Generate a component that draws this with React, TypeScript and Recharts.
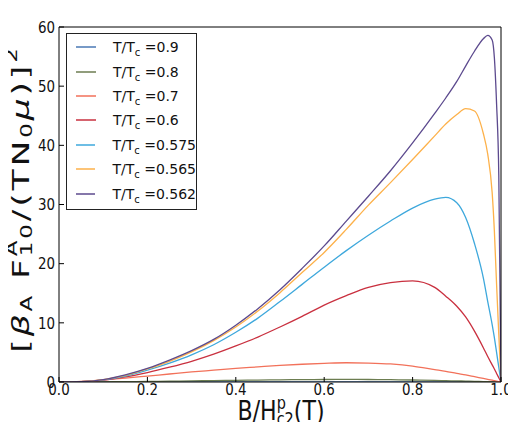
import { LineChart, Line, XAxis, YAxis, Legend, Label } from 'recharts'

// B / Hc2 grid (denser near 1 where the curves drop)
const fieldRatio = [0, 0.05, 0.1, 0.15, 0.2, 0.25, 0.3, 0.35, 0.4, 0.45, 0.5, 0.55, 0.6, 0.65, 0.7, 0.75, 0.8, 0.85, 0.875, 0.9, 0.92, 0.94, 0.96, 0.97, 0.98, 0.985, 0.99, 0.995, 1.0]

const t090 = [0, 0, 0.001, 0.002, 0.004, 0.006, 0.008, 0.01, 0.012, 0.014, 0.016, 0.018, 0.019, 0.02, 0.02, 0.019, 0.017, 0.014, 0.012, 0.01, 0.008, 0.006, 0.004, 0.003, 0.002, 0.0015, 0.001, 0.0005, 0]
const t080 = [0, 0.01, 0.03, 0.06, 0.1, 0.14, 0.19, 0.24, 0.29, 0.33, 0.37, 0.4, 0.42, 0.43, 0.42, 0.39, 0.34, 0.27, 0.23, 0.18, 0.15, 0.11, 0.07, 0.05, 0.035, 0.025, 0.015, 0.008, 0]
const t070 = [0, 0.1, 0.35, 0.65, 1.0, 1.35, 1.7, 2.0, 2.3, 2.55, 2.8, 3.0, 3.15, 3.25, 3.2, 3.05, 2.7, 2.1, 1.8, 1.45, 1.2, 0.9, 0.6, 0.45, 0.3, 0.22, 0.15, 0.07, 0]
const t060 = [0, 0.05, 0.3, 0.85, 1.6, 2.5, 3.5, 4.7, 6.1, 7.6, 9.3, 11.1, 13.0, 14.6, 16.0, 16.8, 17.1, 16.0, 14.5, 12.8, 11.0, 8.6, 5.8, 4.3, 2.9, 2.2, 1.45, 0.72, 0]
const t0575 = [0, 0.05, 0.35, 1.0, 2.0, 3.2, 4.6, 6.3, 8.4, 10.8, 13.6, 16.5, 19.4, 22.2, 24.8, 27.2, 29.4, 30.9, 31.2, 30.3, 27.8, 23.4, 17.6, 13.6, 9.7, 7.5, 5.0, 2.5, 0]
const t0565 = [0, 0.05, 0.4, 1.1, 2.2, 3.5, 5.1, 7.0, 9.3, 12.0, 15.1, 18.5, 21.9, 25.8, 29.9, 33.7, 37.6, 41.6, 43.6, 45.2, 46.2, 45.8, 42.0, 38.5, 32.0, 25.5, 16.5, 8.0, 0]
const t0562 = [0, 0.05, 0.4, 1.2, 2.3, 3.7, 5.3, 7.2, 9.6, 12.4, 15.6, 19.2, 23.0, 27.2, 31.4, 35.7, 40.4, 45.4, 48.0, 50.8, 53.4, 55.9, 58.0, 58.6, 57.8, 54.8, 47.0, 35.0, 0]

const xTicks = [0, 0.2, 0.4, 0.6, 0.8, 1.0]
const yTicks = [0, 10, 20, 30, 40, 50, 60]

const series = [
  { key: 't090', label: '0.9', color: '#4a78b4', values: t090 },
  { key: 't080', label: '0.8', color: '#6c7d50', values: t080 },
  { key: 't070', label: '0.7', color: '#f2715a', values: t070 },
  { key: 't060', label: '0.6', color: '#c9303f', values: t060 },
  { key: 't0575', label: '0.575', color: '#3ea8dc', values: t0575 },
  { key: 't0565', label: '0.565', color: '#fdb14a', values: t0565 },
  { key: 't0562', label: '0.562', color: '#5c4a8e', values: t0562 },
]

const data = fieldRatio.map((x, i) => {
  const row: any = { x }
  series.forEach(s => { row[s.key] = s.values[i] })
  return row
})

const FONT = 'DejaVu Sans, sans-serif'

// legend drawn in the series order (Recharts would reverse it)
const renderLegend = () => (
  <div style={{ border: '1px solid #222', background: '#fff', width: 129, height: 174, paddingTop: 1, fontFamily: FONT, fontSize: 14, color: '#111' }}>
    {series.map(s => (
      <div key={s.key} style={{ display: 'flex', alignItems: 'center', height: 24.4, whiteSpace: 'nowrap' }}>
        <svg width={20} height={4} style={{ marginLeft: 9, marginRight: 17 }}>
          <line x1={0} x2={20} y1={2} y2={2} stroke={s.color} strokeWidth={1.5} />
        </svg>
        <span>T/T<span style={{ fontSize: 10, position: 'relative', top: 4 }}>c</span> ={s.label}</span>
      </div>
    ))}
  </div>
)

// matplotlib-like tick text, slightly condensed horizontally
const XTick = ({ x, y, payload }: any) => (
  <g transform={`translate(${x},${y})`}>
    <text transform="scale(0.84,1)" textAnchor="middle" dy="0.71em" fontFamily={FONT} fontSize={16} fill="#111">
      {Number(payload.value).toFixed(1)}
    </text>
  </g>
)

const YTick = ({ x, y, payload }: any) => (
  <g transform={`translate(${x},${y})`}>
    <text transform="scale(0.84,1)" textAnchor="end" dy="0.36em" fontFamily={FONT} fontSize={16} fill="#111">
      {payload.value}
    </text>
  </g>
)

const XLabel = () => (
  <text transform="translate(281,420) scale(0.85,1)" textAnchor="middle" fontFamily={FONT} fontSize={26} fill="#111">
    <tspan>B/H</tspan>
    <tspan fontSize={17} dy={-11}>p</tspan>
    <tspan fontSize={17} dx={-10.8} dy={16}>c2</tspan>
    <tspan dy={-5}>(T)</tspan>
  </text>
)

const YLabel = () => (
  <text transform="translate(21,199) rotate(-90) scale(1.15,0.76)" textAnchor="middle" dominantBaseline="central"
    fontFamily={FONT} fontSize={30} letterSpacing={2.5} fill="#111">
    <tspan>[</tspan>
    <tspan fontStyle="italic">β</tspan>
    <tspan fontSize={20} dy={7}>A</tspan>
    <tspan dy={-7}> F</tspan>
    <tspan fontSize={20} dy={-13}>A</tspan>
    <tspan fontSize={20} dx={-16.2} dy={20}>10</tspan>
    <tspan dy={-7}>/(TN</tspan>
    <tspan fontSize={20} dy={7}>0</tspan>
    <tspan fontStyle="italic" dy={-7}>μ</tspan>
    <tspan>)]</tspan>
    <tspan fontSize={20} dy={-13}>2</tspan>
  </text>
)

export default function App() {
  return (
    <div style={{ margin: -8 }}>
      <LineChart width={516} height={430} data={data} margin={{ top: 26, right: 14, bottom: 0, left: 0 }}>
        <XAxis dataKey="x" type="number" domain={[0, 1]} ticks={xTicks} allowDataOverflow height={48}
          tickSize={-5} tickMargin={7} stroke="#000" tickLine={{ stroke: '#000' }} tick={<XTick />} interval={0}>
          <Label content={<XLabel />} />
        </XAxis>
        <XAxis xAxisId="top" orientation="top" dataKey="x" type="number" domain={[0, 1]} ticks={xTicks} allowDataOverflow
          height={1} tickSize={-5} tick={false} stroke="#000" tickLine={{ stroke: '#000' }} interval={0} />
        <YAxis type="number" domain={[0, 60]} ticks={yTicks} allowDataOverflow width={59}
          tickSize={-5} tickMargin={9} stroke="#000" tickLine={{ stroke: '#000' }} tick={<YTick />} interval={0}>
          <Label content={<YLabel />} />
        </YAxis>
        <YAxis yAxisId="right" orientation="right" type="number" domain={[0, 60]} ticks={yTicks} allowDataOverflow width={1}
          tickSize={-5} tick={false} stroke="#000" tickLine={{ stroke: '#000' }} interval={0} />
        <Legend content={renderLegend} layout="vertical" align="center" verticalAlign="middle"
          wrapperStyle={{ left: 66, top: 33, width: 131 }} />
        {series.map(s => (
          <Line key={s.key} dataKey={s.key} name={s.label} stroke={s.color} strokeWidth={1.3}
            type="monotone" dot={false} isAnimationActive={false} />
        ))}
      </LineChart>
    </div>
  )
}
